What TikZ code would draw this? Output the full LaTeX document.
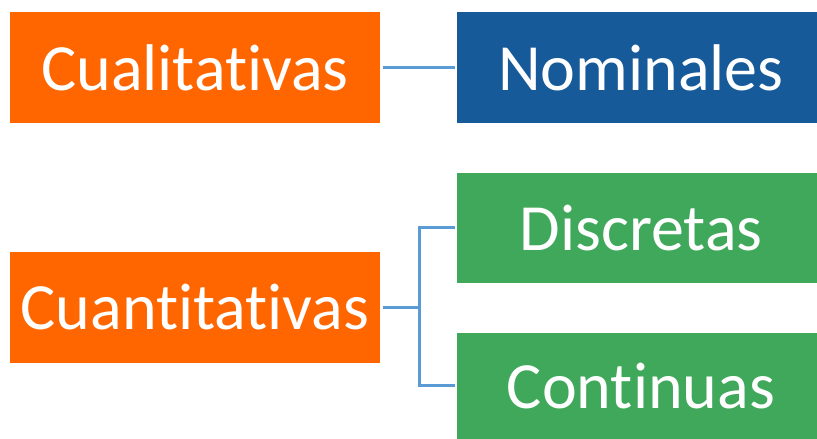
\documentclass[tikz,border=0pt]{standalone}
\usepackage{fontspec}
\setmainfont{Carlito}[Ligatures={NoCommon,NoContextual}]
\definecolor{orng}{HTML}{FF6600}
\definecolor{blu}{HTML}{165A9A}
\definecolor{grn}{HTML}{3FA85B}
\definecolor{lnk}{HTML}{5B9BD5}
\begin{document}
\begin{tikzpicture}[x=1pt,y=1pt,
  box/.style={rectangle, minimum height=111pt, inner sep=0pt, text=white, font=\fontsize{66}{78}\selectfont},
  lbox/.style={box, fill=orng, minimum width=370pt},
  rbox/.style={box, minimum width=360pt},
  link/.style={draw=lnk, line width=3pt}]
\useasboundingbox (0,0) rectangle (817,439);
\node[lbox] (c1) at (195,371.5) {Cualitat\kern0ptivas};
\node[rbox, fill=blu] (n1) at (637,371.5) {\hspace*{8pt}Nominales};
\node[lbox] (c2) at (195,131.5) {Cuant\kern0ptitat\kern0ptivas};
\node[rbox, fill=grn, minimum height=110pt] (d) at (637,211) {\hspace*{8pt}Discretas};
\node[rbox, fill=grn, minimum height=106pt] (ct) at (637,53) {\hspace*{8pt}Continuas};
\draw[link, shorten <=3pt, shorten >=2pt] (c1.east) -- (n1.west);
\coordinate (j) at (419,131.5);
\draw[link, shorten <=3pt] (c2.east) -- (j);
\draw[link, shorten >=2pt] (j) |- (d.west);
\draw[link, shorten >=2pt] (j) |- (ct.west);
\end{tikzpicture}
\end{document}
